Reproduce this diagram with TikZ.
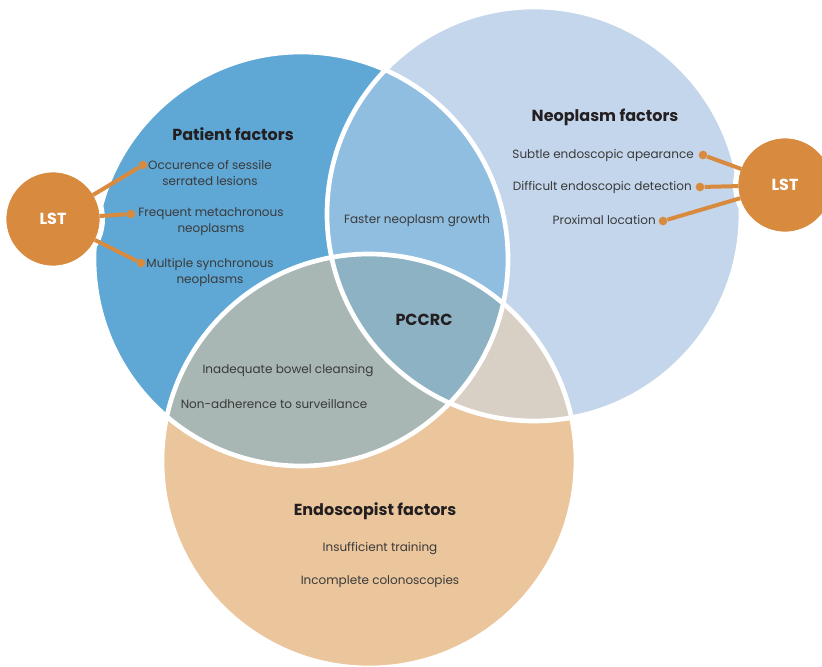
\documentclass[tikz,border=0pt]{standalone}
\usepackage{fontspec}
\setmainfont{Poppins}
\usetikzlibrary{positioning}
\definecolor{patblue}{HTML}{5FA7D5}
\definecolor{neoblue}{HTML}{C4D6EC}
\definecolor{endotan}{HTML}{EBC69C}
\definecolor{patneo}{HTML}{8FBEE0}
\definecolor{patendo}{HTML}{A8B6B4}
\definecolor{neoendo}{HTML}{D8CFC5}
\definecolor{allthree}{HTML}{8DB2C4}
\definecolor{lstorange}{HTML}{D88B3E}
\definecolor{txtgray}{HTML}{3A3A3A}
\definecolor{headblack}{HTML}{231F20}

\tikzset{
  factor/.style={font=\fontsize{9}{12}\selectfont, text=txtgray, align=center, inner sep=0pt},
  heading/.style={font=\fontsize{12}{14}\selectfont\bfseries, text=headblack, inner sep=0pt},
  lstnode/.style={circle, fill=lstorange, draw=white, line width=4pt, minimum size=74pt,
    text=white, font=\fontsize{12}{14}\selectfont\bfseries},
  lstdot/.style={circle, fill=lstorange, inner sep=0pt, minimum size=6.5pt},
  lstlink/.style={lstorange, line width=3pt, shorten <=-4pt},
}

\begin{document}
\begin{tikzpicture}[x=0.75pt, y=-0.75pt]
  \useasboundingbox (0,0) rectangle (822,667);

  % circle centres
  \coordinate (pat) at (301,259);
  \coordinate (neo) at (534,214);
  \coordinate (endo) at (369,461);
  \def\rad{207}

  % plain circles
  \fill[patblue] (pat) circle[radius=\rad];
  \fill[neoblue] (neo) circle[radius=\rad];
  \fill[endotan] (endo) circle[radius=\rad];

  % overlaps
  \begin{scope}
    \clip (neo) circle[radius=\rad];
    \fill[neoendo] (endo) circle[radius=\rad];
  \end{scope}
  \begin{scope}
    \clip (pat) circle[radius=\rad];
    \fill[patneo] (neo) circle[radius=\rad];
    \fill[patendo] (endo) circle[radius=\rad];
    \clip (neo) circle[radius=\rad];
    \fill[allthree] (endo) circle[radius=\rad];
  \end{scope}

  % white rims
  \foreach \c in {pat,neo,endo}
    \draw[white, line width=3.5pt] (\c) circle[radius=\rad];

  % headings
  \node[heading] (pathead) at (233,134) {Patient factors};
  \node[heading] (neohead) at (605,117) {Neoplasm factors};
  \node[heading] (endohead) at (375,511) {Endoscopist factors};
  \node[heading] (pccrc) at (424,320) {PCCRC};

  % LST on the left
  \node[lstnode] (lstL) at (53,219) {LST};
  \foreach \n/\x/\y in {A/143/165, B/131/214, C/141/263}
    \node[lstdot] (dot\n) at (\x,\y) {};
  \foreach \n in {A,B,C}
    \draw[lstlink] (lstL) -- (dot\n);
  \node[factor] (sessile) at (210,173) {Occurence of sessile\\serrated lesions};
  \node[factor] (metachr) at (211,222) {Frequent metachronous\\neoplasms};
  \node[factor] (synchr) at (210,272) {Multiple synchronous\\neoplasms};

  % LST on the right
  \node[lstnode] (lstR) at (785,185) {LST};
  \foreach \n/\x/\y in {D/703/155, E/700/187, F/663/221}
    \node[lstdot] (dot\n) at (\x,\y) {};
  \foreach \n in {D,E,F}
    \draw[lstlink] (lstR) -- (dot\n);
  \node[factor, anchor=east] (subtle) at (694,155) {Subtle endoscopic apearance};
  \node[factor, anchor=east] (difficult) at (692,187) {Difficult endoscopic detection};
  \node[factor, anchor=east] (proximal) at (656,220) {Proximal location};

  % overlap texts
  \node[factor] (growth) at (417,221) {Faster neoplasm growth};
  \node[factor] (cleansing) at (288,371) {Inadequate bowel cleansing};
  \node[factor] (adherence) at (274,404) {Non-adherence to surveillance};
  \node[factor] (training) at (380,549) {Insufficient training};
  \node[factor] (incomplete) at (380,581) {Incomplete colonoscopies};
\end{tikzpicture}
\end{document}
